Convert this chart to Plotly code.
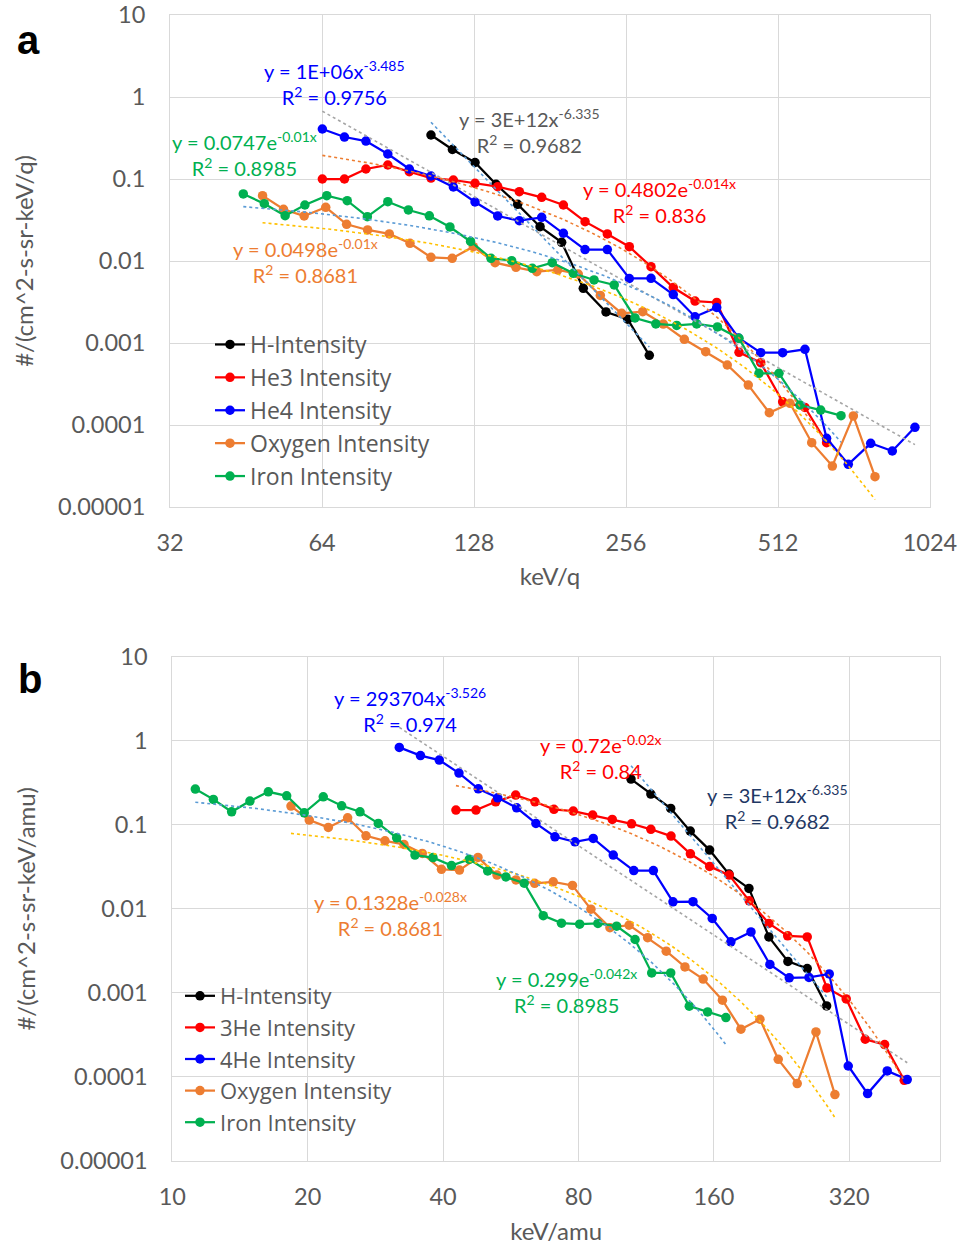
import numpy as np
import plotly.graph_objects as go

# ---------------- Panel a (keV/q) ----------------
h_a_x = [105.2, 116.0, 128.6, 141.5, 156.2, 173.0, 190.9, 210.7, 233.7, 258.0, 284.7]
h_a_y = [0.344, 0.229, 0.159, 0.0862, 0.0491, 0.0262, 0.0169, 0.00465, 0.00239, 0.00195, 0.000708]

he3_a_x = [64.1, 70.9, 78.2, 86.4, 95.3, 105.2, 116.5, 128.6, 142.6, 157.4, 174.3, 192.4,
           212.4, 235.1, 259.9, 286.9, 317.6, 350.7, 387.2, 428.6, 473.2, 523.0, 579.0, 639.0]
he3_a_y = [0.100, 0.100, 0.1324, 0.1482, 0.1227, 0.1028, 0.0972, 0.0886, 0.0806, 0.0700, 0.0598, 0.0482,
           0.0302, 0.0214, 0.01494, 0.00852, 0.00475, 0.00325, 0.00312, 0.000770, 0.000575, 0.000192,
           0.000164, 0.0000608]

he4_a_x = [64.1, 70.9, 78.2, 86.4, 95.3, 105.2, 116.5, 128.6, 142.6, 157.4, 174.3, 192.4, 212.4, 235.1,
           259.9, 286.9, 317.6, 350.7, 387.2, 427.6, 473.2, 523.0, 579.0, 639.0, 705.5, 781.4, 862.3, 956.0]
he4_a_y = [0.407, 0.325, 0.290, 0.2018, 0.1324, 0.1088, 0.0799, 0.0524, 0.0354, 0.0310, 0.0341, 0.0218,
           0.0138, 0.0138, 0.00612, 0.00615, 0.00390, 0.00209, 0.00271, 0.00115, 0.000762, 0.000762,
           0.000838, 0.0000688, 0.0000332, 0.0000598, 0.0000482, 0.0000938]

o_a_x = [48.8, 53.7, 59.0, 65.1, 71.6, 78.8, 87.0, 95.6, 105.2, 115.9, 127.6, 140.9, 155.0, 170.4, 187.5,
         205.9, 227.7, 251.0, 276.3, 303.5, 334.0, 368.2, 406.3, 447.1, 492.1, 540.8, 597.1, 656.0, 721.9, 796.8]
o_a_y = [0.0626, 0.0427, 0.0354, 0.0452, 0.0280, 0.0239, 0.0214, 0.01644, 0.01109, 0.01079, 0.01494, 0.00954,
         0.00838, 0.00741, 0.00777, 0.00694, 0.00380, 0.00230, 0.00241, 0.00170, 0.00111, 0.000783, 0.000539,
         0.000307, 0.000141, 0.000184, 0.0000608, 0.0000316, 0.000129, 0.0000234]

fe_a_x = [44.7, 49.2, 54.1, 59.2, 65.4, 71.8, 78.7, 86.4, 94.9, 104.4, 114.7, 126.0, 138.3, 152.0, 167.0,
          182.9, 201.3, 221.3, 242.6, 266.7, 293.3, 322.6, 353.4, 388.5, 428.6, 469.5, 514.3, 566.0, 622.0, 682.5]
fe_a_y = [0.0657, 0.0500, 0.0357, 0.0482, 0.0626, 0.0544, 0.0347, 0.0529, 0.0419, 0.0356, 0.0260, 0.0173,
          0.01079, 0.01009, 0.00815, 0.00954, 0.00708, 0.00587, 0.00510, 0.00202, 0.00171, 0.00164, 0.00171,
          0.00157, 0.00114, 0.000427, 0.000427, 0.000175, 0.000152, 0.000130]

# ---------------- Panel b (keV/amu) ----------------
h_b_x = [104.7, 115.9, 128.3, 141.8, 156.6, 172.9, 191.5, 212.1, 233.8, 258.1, 285.0]
h_b_y = [0.350, 0.232, 0.1568, 0.0841, 0.0500, 0.0259, 0.0175, 0.00464, 0.00237, 0.00195, 0.000700]

he3_b_x = [42.73, 47.34, 52.37, 58.01, 64.02, 70.57, 77.90, 86.03, 95.12, 105.0, 115.9, 128.5, 141.9, 156.6,
           173.1, 191.8, 212.1, 233.5, 258.1, 285.5, 315.1, 347.3, 383.6, 424.1]
he3_b_y = [0.1496, 0.1496, 0.1878, 0.2258, 0.1878, 0.1526, 0.1456, 0.1305, 0.1160, 0.1028, 0.0884, 0.0734,
           0.0452, 0.0320, 0.0252, 0.01245, 0.00670, 0.00477, 0.00464, 0.001147, 0.000849, 0.000281,
           0.000243, 0.0000913]

he4_b_x = [31.97, 35.63, 39.23, 43.39, 47.91, 52.91, 58.31, 64.35, 70.93, 78.58, 86.29, 95.60, 106.2, 117.4,
           129.8, 143.8, 158.7, 174.6, 193.5, 213.2, 235.4, 260.4, 288.9, 318.4, 351.6, 388.7, 430.7]
he4_b_y = [0.834, 0.666, 0.589, 0.4126, 0.2683, 0.2097, 0.1594, 0.1039, 0.0720, 0.0627, 0.0689, 0.0436,
           0.0285, 0.0285, 0.01212, 0.01218, 0.00769, 0.00405, 0.00532, 0.00218, 0.00151, 0.00153, 0.00168,
           0.000135, 0.0000634, 0.000118, 0.0000931]

o_b_x = [18.36, 20.16, 22.23, 24.54, 26.96, 29.71, 32.74, 35.96, 39.67, 43.50, 47.83, 52.72, 58.10, 63.93,
         70.31, 77.58, 85.28, 94.0, 103.7, 114.0, 125.4, 138.0, 151.5, 167.2, 183.8, 202.6, 222.5, 245.2,
         269.9, 297.4]
o_b_y = [0.1670, 0.1138, 0.0931, 0.1212, 0.0740, 0.0645, 0.0584, 0.0457, 0.0295, 0.0289, 0.0409, 0.0252,
         0.0221, 0.0201, 0.0210, 0.0190, 0.00992, 0.00597, 0.00640, 0.00454, 0.00314, 0.00204, 0.00146,
         0.000819, 0.000370, 0.000486, 0.000162, 0.0000834, 0.000343, 0.0000617]

fe_b_x = [11.25, 12.34, 13.55, 14.88, 16.35, 17.96, 19.65, 21.66, 23.80, 26.14, 28.71, 31.54, 34.64, 37.99,
          41.76, 45.74, 50.27, 55.19, 60.59, 66.81, 73.33, 80.49, 88.39, 97.27, 106.9, 116.4, 128.3, 141.1,
          155.0, 170.2]
fe_b_y = [0.266, 0.2006, 0.1428, 0.1915, 0.2471, 0.2214, 0.1390, 0.2154, 0.1684, 0.1428, 0.1039, 0.0700,
          0.0436, 0.0407, 0.0327, 0.0388, 0.0283, 0.0240, 0.0202, 0.00830, 0.00676, 0.00657, 0.00670, 0.00622,
          0.00432, 0.00173, 0.00173, 0.000695, 0.000594, 0.000509]

# tick labels
x_a_ticks = [32, 64, 128, 256, 512, 1024]
x_b_ticks = [10, 20, 40, 80, 160, 320]
y_ticks = [0.00001, 0.0001, 0.001, 0.01, 0.1, 1, 10]
y_tick_text = ["0.00001", "0.0001", "0.001", "0.01", "0.1", "1", "10"]

names_a = ["H-Intensity", "He3 Intensity", "He4 Intensity", "Oxygen Intensity", "Iron Intensity"]
names_b = ["H-Intensity", "3He Intensity", "4He Intensity", "Oxygen Intensity", "Iron Intensity"]
colors = ["#000000", "#FF0000", "#0000FF", "#ED7D31", "#00B050"]

# trendline types and colours (Excel style)
fit_kind = ["power", "exp", "power", "exp", "exp"]
fit_color = ["#5B9BD5", "#ED7D31", "#A5A5A5", "#FFC000", "#5B9BD5"]

W, H = 959, 1245
GRID = "#D9D9D9"
TXT = "#595959"
FONT = "Lato"
LEGFONT = "Open Sans"


def px_x(p):
    return p / W


def px_y(p):
    return 1 - p / H


def trend(x, y, kind):
    x = np.asarray(x, float)
    y = np.asarray(y, float)
    xs = np.geomspace(x.min(), x.max(), 200)
    if kind == "power":
        b, lna = np.polyfit(np.log(x), np.log(y), 1)
        return xs, np.exp(lna) * xs ** b
    b, lna = np.polyfit(x, np.log(y), 1)
    return xs, np.exp(lna) * np.exp(b * xs)


fig = go.Figure()

panels = [
    ("x", "y", "legend", names_a,
     [(h_a_x, h_a_y), (he3_a_x, he3_a_y), (he4_a_x, he4_a_y), (o_a_x, o_a_y), (fe_a_x, fe_a_y)]),
    ("x2", "y2", "legend2", names_b,
     [(h_b_x, h_b_y), (he3_b_x, he3_b_y), (he4_b_x, he4_b_y), (o_b_x, o_b_y), (fe_b_x, fe_b_y)]),
]

for xa, ya, leg, names, series in panels:
    for i, (sx, sy) in enumerate(series):
        fig.add_trace(go.Scatter(
            x=sx, y=sy, mode="lines+markers", name=names[i],
            line=dict(color=colors[i], width=2.25),
            marker=dict(color=colors[i], size=9.5),
            xaxis=xa, yaxis=ya, legend=leg, legendgroup=leg + str(i),
        ))
    for i, (sx, sy) in enumerate(series):
        tx, ty = trend(sx, sy, fit_kind[i])
        fig.add_trace(go.Scatter(
            x=tx, y=ty, mode="lines", showlegend=False, hoverinfo="skip",
            line=dict(color=fit_color[i], width=1.6, dash="dot"),
            xaxis=xa, yaxis=ya,
        ))

axis_common = dict(
    type="log", showgrid=True, gridcolor=GRID, gridwidth=1, zeroline=False,
    showline=True, linecolor=GRID, linewidth=1, mirror=True, automargin=False,
    tickfont=dict(family=FONT, size=23.5, color=TXT), ticks="",
)

fig.update_layout(
    width=W, height=H,
    margin=dict(l=0, r=0, t=0, b=0, autoexpand=False),
    paper_bgcolor="white", plot_bgcolor="white",
    showlegend=True,
    xaxis=dict(axis_common, domain=[px_x(170), px_x(930)], anchor="y",
               range=[np.log10(32), np.log10(1024)],
               tickvals=x_a_ticks, ticktext=[str(v) for v in x_a_ticks], ticklabelstandoff=15,
               title=dict(text="keV/q", font=dict(family=FONT, size=24, color=TXT), standoff=12)),
    yaxis=dict(axis_common, domain=[px_y(507), px_y(15)], anchor="x",
               range=[-5, 1], tickvals=y_ticks, ticktext=y_tick_text, ticklabelstandoff=19,
               title=dict(text="#/(cm^2-s-sr-keV/q)", font=dict(family=FONT, size=24, color=TXT), standoff=17)),
    xaxis2=dict(axis_common, domain=[px_x(172.3), px_x(940)], anchor="y2",
                range=[1, 2.707],
                tickvals=x_b_ticks, ticktext=[str(v) for v in x_b_ticks], ticklabelstandoff=15,
                title=dict(text="keV/amu", font=dict(family=FONT, size=24, color=TXT), standoff=14)),
    yaxis2=dict(axis_common, domain=[px_y(1161), px_y(656.7)], anchor="x2",
                range=[-5, 1], tickvals=y_ticks, ticktext=y_tick_text, ticklabelstandoff=19,
                title=dict(text="#/(cm^2-s-sr-keV/amu)", font=dict(family=FONT, size=24, color=TXT), standoff=17)),
    legend=dict(x=px_x(210), y=px_y(323), xanchor="left", yanchor="top",
                bgcolor="rgba(0,0,0,0)", borderwidth=0, itemwidth=30,
                font=dict(family=LEGFONT, size=23, color=TXT), tracegroupgap=0),
    legend2=dict(x=px_x(180), y=px_y(975), xanchor="left", yanchor="top",
                 bgcolor="rgba(0,0,0,0)", borderwidth=0, itemwidth=30,
                 font=dict(family=LEGFONT, size=22, color=TXT), tracegroupgap=0),
)

ann = [
    # panel a
    ("y = 1E+06x<sup>-3.485</sup><br>R<sup>2</sup> = 0.9756", 334, 83, "#0000FF"),
    ("y = 3E+12x<sup>-6.335</sup><br>R<sup>2</sup> = 0.9682", 529, 130.5, "#595959"),
    ("y = 0.0747e<sup>-0.01x</sup><br>R<sup>2</sup> = 0.8985", 244, 154.5, "#00B050"),
    ("y = 0.4802e<sup>-0.014x</sup><br>R<sup>2</sup> = 0.836", 659, 200.5, "#FF0000"),
    ("y = 0.0498e<sup>-0.01x</sup><br>R<sup>2</sup> = 0.8681", 305, 261, "#ED7D31"),
    # panel b
    ("y = 293704x<sup>-3.526</sup><br>R<sup>2</sup> = 0.974", 410, 709.5, "#0000FF"),
    ("y = 0.72e<sup>-0.02x</sup><br>R<sup>2</sup> = 0.84", 601, 756.5, "#FF0000"),
    ("y = 3E+12x<sup>-6.335</sup><br>R<sup>2</sup> = 0.9682", 777, 806.5, "#1F3864"),
    ("y = 0.1328e<sup>-0.028x</sup><br>R<sup>2</sup> = 0.8681", 390, 913.5, "#ED7D31"),
    ("y = 0.299e<sup>-0.042x</sup><br>R<sup>2</sup> = 0.8985", 566, 991, "#00B050"),
]
for text, cx, cy, col in ann:
    fig.add_annotation(text=text, x=px_x(cx), y=px_y(cy), xref="paper", yref="paper",
                       xanchor="center", yanchor="middle", showarrow=False, align="center",
                       font=dict(family=FONT, size=20, color=col))

for letter, cx, cy in [("a", 28, 40), ("b", 30, 679)]:
    fig.add_annotation(text="<b>%s</b>" % letter, x=px_x(cx), y=px_y(cy), xref="paper", yref="paper",
                       xanchor="center", yanchor="middle", showarrow=False,
                       font=dict(family="Liberation Sans", size=40, color="#000000"))

fig.write_html("out.html")
